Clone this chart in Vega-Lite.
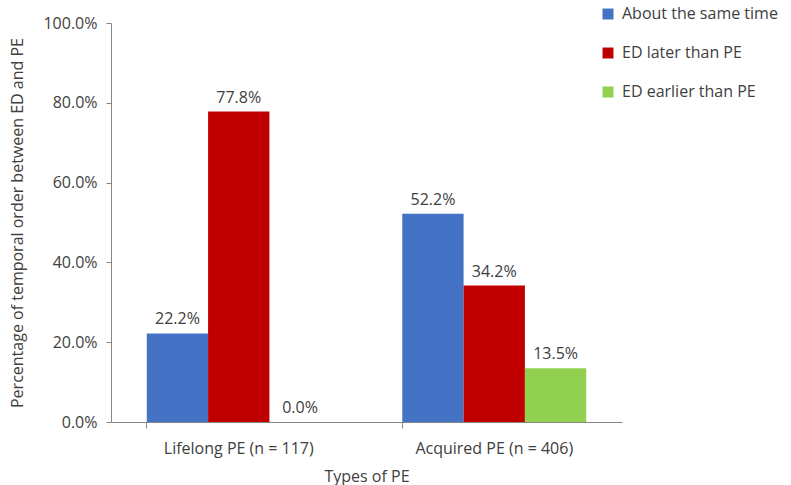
{
  "$schema": "https://vega.github.io/schema/vega-lite/v6.json",
  "width": 511,
  "height": 399,
  "autosize": {"type": "none"},
  "padding": {"left": 111, "top": 23, "right": 169, "bottom": 63},
  "background": "white",
  "config": {
    "view": {"stroke": null},
    "font": "Open Sans",
    "axis": {"labelFont": "Open Sans", "titleFont": "Open Sans", "labelColor": "#404040", "titleColor": "#404040", "titleFontWeight": "normal", "domainColor": "#868686", "tickColor": "#868686", "grid": false}
  },
  "data": {
    "values": [
      {"type": "Lifelong PE (n = 117)", "order": "About the same time", "pct": 0.222},
      {"type": "Lifelong PE (n = 117)", "order": "ED later than PE", "pct": 0.778},
      {"type": "Lifelong PE (n = 117)", "order": "ED earlier than PE", "pct": 0.0},
      {"type": "Acquired PE (n = 406)", "order": "About the same time", "pct": 0.522},
      {"type": "Acquired PE (n = 406)", "order": "ED later than PE", "pct": 0.342},
      {"type": "Acquired PE (n = 406)", "order": "ED earlier than PE", "pct": 0.135}
    ]
  },
  "encoding": {
    "x": {
      "field": "type", "type": "nominal", "sort": ["Lifelong PE (n = 117)", "Acquired PE (n = 406)"],
      "scale": {"paddingInner": 0.28, "paddingOuter": 0.14},
      "axis": {"title": "Types of PE", "labelAngle": 0, "labelFontSize": 16, "titleFontSize": 16, "labelPadding": 12, "titlePadding": 12, "bandPosition": 0, "tickSize": 6}
    },
    "xOffset": {"field": "order", "type": "nominal", "sort": ["About the same time", "ED later than PE", "ED earlier than PE"]},
    "y": {
      "field": "pct", "type": "quantitative",
      "scale": {"domain": [0, 1]},
      "axis": {"title": "Percentage of temporal order between ED and PE", "format": ".1%", "values": [0, 0.2, 0.4, 0.6, 0.8, 1.0], "labelFontSize": 16, "titleFontSize": 16, "labelPadding": 9, "titlePadding": 17, "tickSize": 5}
    }
  },
  "layer": [
    {
      "mark": {"type": "bar"},
      "encoding": {
        "color": {
          "field": "order", "type": "nominal",
          "sort": ["About the same time", "ED later than PE", "ED earlier than PE"],
          "scale": {"domain": ["About the same time", "ED later than PE", "ED earlier than PE"], "range": ["#4472C4", "#C00000", "#92D050"]},
          "legend": {"title": null, "orient": "none", "legendX": 489, "legendY": -17, "symbolType": "square", "symbolSize": 120, "labelFontSize": 16, "labelColor": "#404040", "rowPadding": 23, "symbolStrokeWidth": 0, "labelOffset": 6}
        }
      }
    },
    {
      "mark": {"type": "text", "baseline": "bottom", "dy": -6, "fontSize": 16, "color": "#404040"},
      "encoding": {"text": {"field": "pct", "type": "quantitative", "format": ".1%"}}
    }
  ]
}
